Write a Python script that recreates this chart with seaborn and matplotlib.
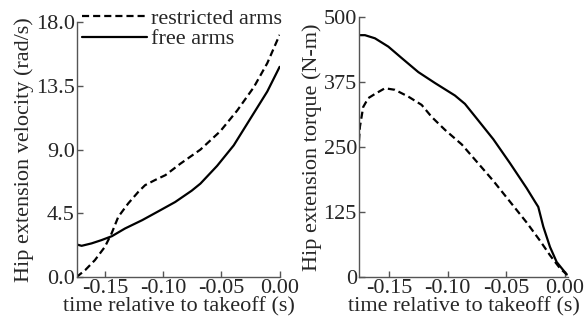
import matplotlib
matplotlib.use("Agg")
import matplotlib.pyplot as plt
import seaborn as sns
import pandas as pd

# Left panel: hip extension velocity (rad/s)
vel_restricted_t = [-0.1745, -0.167, -0.1586, -0.150, -0.1443, -0.1385, -0.130, -0.1213,
                    -0.1155, -0.107, -0.098, -0.0853, -0.068, -0.0509, -0.0365,
                    -0.0222, -0.0106, 0.0]
vel_restricted = [0.0, 0.49, 1.2, 2.14, 3.08, 4.26, 5.2, 6.02,
                  6.49, 6.85, 7.2, 8.0, 9.0, 10.3, 11.75,
                  13.4, 15.1, 17.1]
vel_free_t = [-0.1745, -0.170, -0.1615, -0.153, -0.144, -0.1328, -0.118, -0.104,
              -0.0897, -0.0755, -0.068, -0.0537, -0.0394, -0.025, -0.0106, 0.0]
vel_free = [2.31, 2.21, 2.38, 2.61, 2.89, 3.43, 4.02, 4.65,
            5.3, 6.1, 6.6, 7.85, 9.3, 11.2, 13.1, 14.84]

# Right panel: hip extension torque (N-m)
tq_free_t = [-0.1756, -0.1705, -0.162, -0.1506, -0.1392, -0.125, -0.1108, -0.0938,
             -0.0853, -0.0753, -0.0611, -0.0469, -0.0327, -0.0256, -0.0228, -0.0185,
             -0.0128, -0.0071, 0.0015]
tq_free = [465, 465, 459, 443, 421, 394, 373, 349,
           333, 305, 265, 219, 171, 145, 135, 97,
           58, 29, 5]
tq_restricted_t = [-0.1756, -0.1748, -0.172, -0.1677, -0.162, -0.1535, -0.145, -0.1336,
                   -0.1222, -0.1137, -0.1023, -0.088, -0.0753, -0.0611, -0.0469, -0.0327,
                   -0.0213, -0.0128, -0.0043, 0.0015]
tq_restricted = [262, 289, 327, 344, 352, 363, 360, 347,
                 331, 308, 283, 255, 222, 185, 145, 105,
                 70, 42, 17, 5]

vel_yticks = [0.0, 4.5, 9.0, 13.5, 18.0]
tq_yticks = [0, 125, 250, 375, 500]
xticks = [-0.15, -0.10, -0.05, 0.00]

sns.set_style("ticks")
plt.rcParams['font.family'] = ['Liberation Serif', 'DejaVu Serif']
plt.rcParams['font.size'] = 16

df_vel = pd.concat([
    pd.DataFrame({"t": vel_restricted_t, "v": vel_restricted, "cond": "restricted arms"}),
    pd.DataFrame({"t": vel_free_t, "v": vel_free, "cond": "free arms"}),
])
df_tq = pd.concat([
    pd.DataFrame({"t": tq_restricted_t, "v": tq_restricted, "cond": "restricted arms"}),
    pd.DataFrame({"t": tq_free_t, "v": tq_free, "cond": "free arms"}),
])

fig = plt.figure(figsize=(5.84, 3.2), dpi=100)
ax1 = fig.add_axes([0.1318, 0.134, 0.348, 0.797])
ax2 = fig.add_axes([0.6147, 0.134, 0.358, 0.813])

styles = {"restricted arms": (0, (3.2, 1.8)), "free arms": "-"}
for ax, df in ((ax1, df_vel), (ax2, df_tq)):
    for cond in ["restricted arms", "free arms"]:
        sub = df[df["cond"] == cond]
        sns.lineplot(data=sub, x="t", y="v", ax=ax, color="black", lw=1.6,
                     linestyle=styles[cond], label=cond, legend=False)

ax1.set_xlim(-0.174, 0.0005)
ax1.set_ylim(0, 18)
ax1.set_yticks(vel_yticks)
ax1.set_yticklabels([f"{v:.1f}" for v in vel_yticks])
ax2.set_xlim(-0.1756, 0.0026)
ax2.set_ylim(0, 500)
ax2.set_yticks(tq_yticks)
ax2.set_yticklabels([str(v) for v in tq_yticks])

for ax in (ax1, ax2):
    ax.set_xticks(xticks)
    ax.set_xticklabels([f"{v:.2f}" for v in xticks])
    ax.set_xlabel("time relative to takeoff (s)", labelpad=-1)
    ax.tick_params(direction="in", length=4, width=1, color="#555555", pad=1.5, labelsize=16)
    for s in ("top", "right"):
        ax.spines[s].set_visible(False)
    for s in ("left", "bottom"):
        ax.spines[s].set_color("#555555")
        ax.spines[s].set_linewidth(1)

ax1.set_ylabel("Hip extension velocity (rad/s)", labelpad=1)
ax2.set_ylabel("Hip extension torque (N-m)", labelpad=1)

ax1.legend(loc="upper left", bbox_to_anchor=(-0.05, 1.115), frameon=False, fontsize=16,
           handlelength=2.9, handletextpad=0.2, labelspacing=0.0, borderpad=0.2)

fig.savefig("out.png", dpi=100)
